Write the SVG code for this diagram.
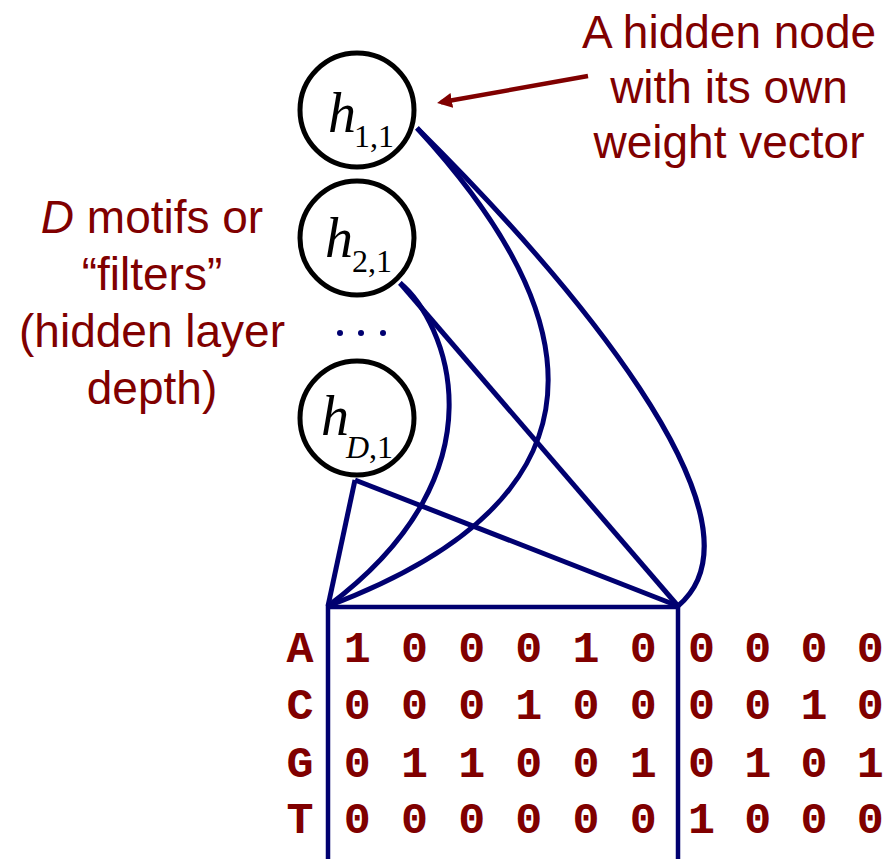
<svg xmlns="http://www.w3.org/2000/svg" width="885" height="859" viewBox="0 0 885 859">
<defs>
<style>
.lbl{font-family:"Liberation Sans",Arial,sans-serif;font-size:46px;fill:#800000;text-anchor:middle}
.edge{fill:none;stroke:#000070;stroke-width:5}
.node circle{fill:#fff;stroke:#000;stroke-width:5}
.hv{font-family:"Liberation Serif","Times New Roman",serif;font-style:italic;font-size:56px;fill:#000}
.sub{font-family:"Liberation Serif","Times New Roman",serif;font-size:32px;font-style:normal;fill:#000}
.seq{font-family:"Liberation Mono","Courier New",monospace;font-weight:bold;font-size:45px;letter-spacing:1.6px;fill:#800000}
.seqr{font-family:"Liberation Mono","Courier New",monospace;font-weight:bold;font-size:45px;letter-spacing:1.1px;fill:#800000}
</style>
<marker id="ah" markerUnits="userSpaceOnUse" markerWidth="16" markerHeight="16" viewBox="0 0 16 16" refX="11" refY="8" orient="auto">
<path d="M0,0.5 L15,8 L0,15.5 z" fill="#800000"/>
</marker>
</defs>
<rect width="885" height="859" fill="#fff"/>

<g id="connectors">
<path class="edge" d="M417,128 C520,240 690,470 328,606"/>
<path class="edge" d="M417,128 C560,270 780,520 678,606"/>
<path class="edge" d="M400,283 C445,320 510,470 328,606"/>
<path class="edge" d="M400,283 L678,606"/>
<path class="edge" d="M355,480 L328,606"/>
<path class="edge" d="M355,480 L678,606"/>
<line x1="588" y1="76" x2="441" y2="102.3" stroke="#800000" stroke-width="4.5" marker-end="url(#ah)"/>
</g>

<g id="h11" class="node">
<circle cx="357" cy="110" r="57"/>
<text class="hv" x="328" y="132">h</text>
<text class="sub" x="354" y="147">1,1</text>
</g>
<g id="h21" class="node">
<circle cx="357" cy="238" r="57"/>
<text class="hv" x="325" y="257">h</text>
<text class="sub" x="352" y="272">2,1</text>
</g>
<g id="dots">
<circle cx="340" cy="333" r="3" fill="#000070"/>
<circle cx="361" cy="333" r="3" fill="#000070"/>
<circle cx="383" cy="333" r="3" fill="#000070"/>
</g>
<g id="hD1" class="node">
<circle cx="357" cy="418" r="57"/>
<text class="hv" x="321" y="435">h</text>
<text class="sub" x="346" y="458"><tspan font-style="italic">D</tspan>,1</text>
</g>

<g id="input">
<rect x="328" y="607" width="350" height="270" fill="none" stroke="#000070" stroke-width="4.5"/>
<text class="seq" x="286.5" y="662">A 1 0 0 0 1 0</text>
<text class="seq" x="286.5" y="719">C 0 0 0 1 0 0</text>
<text class="seq" x="286.5" y="777">G 0 1 1 0 0 1</text>
<text class="seq" x="286.5" y="833">T 0 0 0 0 0 0</text>
<text class="seqr" x="688" y="662">0 0 0 0</text>
<text class="seqr" x="688" y="719">0 0 1 0</text>
<text class="seqr" x="688" y="777">0 1 0 1</text>
<text class="seqr" x="688" y="833">1 0 0 0</text>
</g>

<g id="label-hidden-node">
<text class="lbl" x="729" y="48">A hidden node</text>
<text class="lbl" x="729" y="103">with its own</text>
<text class="lbl" x="729" y="158">weight vector</text>
</g>
<g id="label-motifs">
<text class="lbl" x="152" y="233"><tspan font-style="italic">D</tspan> motifs or</text>
<text class="lbl" x="152" y="290">“filters”</text>
<text class="lbl" x="152" y="347">(hidden layer</text>
<text class="lbl" x="152" y="404">depth)</text>
</g>
</svg>
